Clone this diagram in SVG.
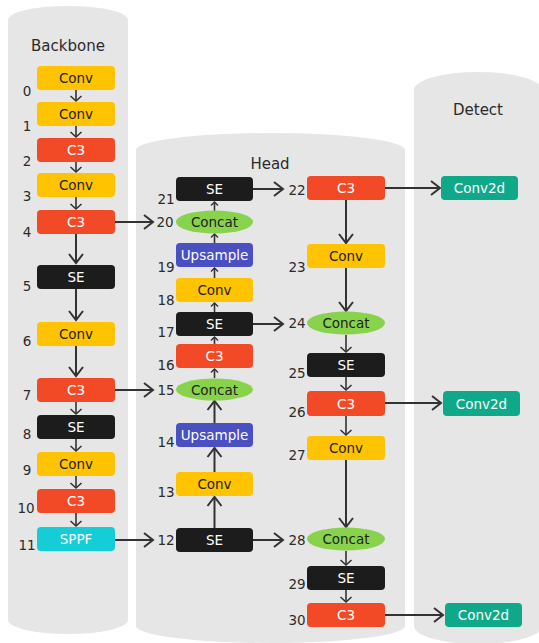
<svg xmlns="http://www.w3.org/2000/svg" width="539" height="643" viewBox="0 0 539 643">
  <defs>
    <style>
      .panel { fill: #e6e6e6; }
      .title { font-family: "DejaVu Sans", "Liberation Sans", sans-serif; font-size: 15px; fill: #2b2b2b; text-anchor: middle; }
      .num { font-family: "DejaVu Sans", "Liberation Sans", sans-serif; font-size: 13.5px; fill: #2b2b2b; text-anchor: middle; }
      .lbl { font-family: "DejaVu Sans", "Liberation Sans", sans-serif; font-size: 13.5px; text-anchor: middle; }
      .conv { fill: #ffc300; }
      .c3 { fill: #f24a26; }
      .se { fill: #1c1c1c; }
      .sppf { fill: #14cdd6; }
      .up { fill: #4a4fc2; }
      .cat { fill: #88d24c; }
      .c2d { fill: #0fa98a; }
      .dark { fill: #1e1e1e; }
      .light { fill: #fff; }
      .edge { fill: none; stroke: #333; stroke-width: 2; }
      .edge-s { fill: none; stroke: #333; stroke-width: 1.6; }
    </style>
    <marker id="big" markerUnits="userSpaceOnUse" markerWidth="20" markerHeight="20" refX="0" refY="0" orient="auto" overflow="visible">
      <path d="M-9,-7 L0,0 L-9,7" fill="none" stroke="#333" stroke-width="2"/>
    </marker>
    <marker id="small" markerUnits="userSpaceOnUse" markerWidth="14" markerHeight="14" refX="0" refY="0" orient="auto" overflow="visible">
      <path d="M-5,-5.5 L0,0 L-5,5.5" fill="none" stroke="#333" stroke-width="1.6"/>
    </marker>
    <marker id="tiny" markerUnits="userSpaceOnUse" markerWidth="10" markerHeight="10" refX="0" refY="0" orient="auto" overflow="visible">
      <path d="M-3.5,-3.5 L0,0 L-3.5,3.5" fill="none" stroke="#333" stroke-width="1.4"/>
    </marker>
  </defs>

  <rect width="539" height="643" fill="#ffffff"/>

  <!-- column panels -->
  <g id="panels">
    <path class="panel" d="M8,20 A60,14 0 0 1 128,20 V620 A60,14 0 0 1 8,620 Z"/>
    <path class="panel" d="M136,150 A134.5,17 0 0 1 405,150 V626 A134.5,17 0 0 1 136,626 Z"/>
    <path class="panel" d="M414,90 A64,18 0 0 1 542,90 V626 A64,18 0 0 1 414,626 Z"/>
    <text class="title" x="68" y="51">Backbone</text>
    <text class="title" x="270" y="169">Head</text>
    <text class="title" x="478" y="115">Detect</text>
  </g>

  <!-- connectors -->
  <g id="connectors">
    <!-- backbone chain -->
    <line class="edge-s" x1="76" y1="90" x2="76" y2="101" marker-end="url(#small)"/>
    <line class="edge-s" x1="76" y1="126" x2="76" y2="137" marker-end="url(#small)"/>
    <line class="edge-s" x1="76" y1="162" x2="76" y2="172" marker-end="url(#small)"/>
    <line class="edge-s" x1="76" y1="197" x2="76" y2="209" marker-end="url(#small)"/>
    <line class="edge" x1="76" y1="234" x2="76" y2="263" marker-end="url(#big)"/>
    <line class="edge" x1="76" y1="289" x2="76" y2="320" marker-end="url(#big)"/>
    <line class="edge" x1="76" y1="346" x2="76" y2="376" marker-end="url(#big)"/>
    <line class="edge-s" x1="76" y1="402" x2="76" y2="414" marker-end="url(#small)"/>
    <line class="edge-s" x1="76" y1="439" x2="76" y2="451" marker-end="url(#small)"/>
    <line class="edge-s" x1="76" y1="476" x2="76" y2="488" marker-end="url(#small)"/>
    <line class="edge-s" x1="76" y1="513" x2="76" y2="526" marker-end="url(#small)"/>
    <!-- backbone to head -->
    <line class="edge" x1="115" y1="222" x2="153" y2="222" marker-end="url(#big)"/>
    <line class="edge" x1="115" y1="390" x2="153" y2="390" marker-end="url(#big)"/>
    <line class="edge" x1="115" y1="540" x2="153" y2="540" marker-end="url(#big)"/>
    <!-- head upward chain -->
    <line class="edge-s" x1="214.5" y1="211" x2="214.5" y2="202" marker-end="url(#tiny)"/>
    <line class="edge-s" x1="214.5" y1="243" x2="214.5" y2="234" marker-end="url(#tiny)"/>
    <line class="edge-s" x1="214.5" y1="278" x2="214.5" y2="268" marker-end="url(#tiny)"/>
    <line class="edge-s" x1="214.5" y1="312" x2="214.5" y2="303" marker-end="url(#tiny)"/>
    <line class="edge-s" x1="214.5" y1="344" x2="214.5" y2="337" marker-end="url(#tiny)"/>
    <line class="edge-s" x1="214.5" y1="378" x2="214.5" y2="369" marker-end="url(#tiny)"/>
    <line class="edge" x1="214.5" y1="423" x2="214.5" y2="401" marker-end="url(#big)"/>
    <line class="edge" x1="214.5" y1="472" x2="214.5" y2="448" marker-end="url(#big)"/>
    <line class="edge" x1="214.5" y1="528" x2="214.5" y2="497" marker-end="url(#big)"/>
    <!-- head across -->
    <line class="edge" x1="253" y1="189" x2="283" y2="189" marker-end="url(#big)"/>
    <line class="edge" x1="253" y1="324" x2="283" y2="324" marker-end="url(#big)"/>
    <line class="edge" x1="253" y1="540" x2="283" y2="540" marker-end="url(#big)"/>
    <!-- head downward chain -->
    <line class="edge" x1="346" y1="200" x2="346" y2="243" marker-end="url(#big)"/>
    <line class="edge" x1="346" y1="268" x2="346" y2="311" marker-end="url(#big)"/>
    <line class="edge-s" x1="346" y1="335" x2="346" y2="352" marker-end="url(#small)"/>
    <line class="edge-s" x1="346" y1="377" x2="346" y2="390" marker-end="url(#small)"/>
    <line class="edge-s" x1="346" y1="416" x2="346" y2="435" marker-end="url(#small)"/>
    <line class="edge" x1="346" y1="460" x2="346" y2="527" marker-end="url(#big)"/>
    <line class="edge-s" x1="346" y1="551" x2="346" y2="565" marker-end="url(#small)"/>
    <line class="edge-s" x1="346" y1="590" x2="346" y2="602" marker-end="url(#small)"/>
    <!-- head to detect -->
    <line class="edge" x1="385" y1="188" x2="440" y2="188" marker-end="url(#big)"/>
    <line class="edge" x1="385" y1="403" x2="441" y2="403" marker-end="url(#big)"/>
    <line class="edge" x1="385" y1="615" x2="443" y2="615" marker-end="url(#big)"/>
  </g>

  <!-- backbone nodes -->
  <g id="n0"><rect class="conv" x="37" y="66" width="78" height="24" rx="4"/><text class="lbl dark" x="76" y="83">Conv</text><text class="num" x="27" y="96">0</text></g>
  <g id="n1"><rect class="conv" x="37" y="102" width="78" height="24" rx="4"/><text class="lbl dark" x="76" y="119">Conv</text><text class="num" x="27" y="131">1</text></g>
  <g id="n2"><rect class="c3" x="37" y="138" width="78" height="24" rx="4"/><text class="lbl light" x="76" y="155">C3</text><text class="num" x="27" y="166">2</text></g>
  <g id="n3"><rect class="conv" x="37" y="173" width="78" height="24" rx="4"/><text class="lbl dark" x="76" y="190">Conv</text><text class="num" x="27" y="201">3</text></g>
  <g id="n4"><rect class="c3" x="37" y="210" width="78" height="24" rx="4"/><text class="lbl light" x="76" y="227">C3</text><text class="num" x="27" y="237">4</text></g>
  <g id="n5"><rect class="se" x="37" y="265" width="78" height="24" rx="4"/><text class="lbl light" x="76" y="282">SE</text><text class="num" x="27" y="291">5</text></g>
  <g id="n6"><rect class="conv" x="37" y="322" width="78" height="24" rx="4"/><text class="lbl dark" x="76" y="339">Conv</text><text class="num" x="27" y="346">6</text></g>
  <g id="n7"><rect class="c3" x="37" y="378" width="78" height="24" rx="4"/><text class="lbl light" x="76" y="395">C3</text><text class="num" x="27" y="400">7</text></g>
  <g id="n8"><rect class="se" x="37" y="415" width="78" height="24" rx="4"/><text class="lbl light" x="76" y="432">SE</text><text class="num" x="27" y="439">8</text></g>
  <g id="n9"><rect class="conv" x="37" y="452" width="78" height="24" rx="4"/><text class="lbl dark" x="76" y="469">Conv</text><text class="num" x="27" y="475">9</text></g>
  <g id="n10"><rect class="c3" x="37" y="489" width="78" height="24" rx="4"/><text class="lbl light" x="76" y="506">C3</text><text class="num" x="26" y="513">10</text></g>
  <g id="n11"><rect class="sppf" x="37" y="527" width="78" height="24" rx="4"/><text class="lbl light" x="76" y="544">SPPF</text><text class="num" x="27" y="550">11</text></g>

  <!-- head, upward column -->
  <g id="n12"><rect class="se" x="176" y="528" width="77" height="24" rx="4"/><text class="lbl light" x="214.5" y="545">SE</text><text class="num" x="166" y="545">12</text></g>
  <g id="n13"><rect class="conv" x="176" y="472" width="77" height="24" rx="4"/><text class="lbl dark" x="214.5" y="489">Conv</text><text class="num" x="166" y="497">13</text></g>
  <g id="n14"><rect class="up" x="176" y="423" width="77" height="24" rx="4"/><text class="lbl light" x="214.5" y="440">Upsample</text><text class="num" x="166" y="447">14</text></g>
  <g id="n15"><ellipse class="cat" cx="214.5" cy="389.5" rx="38.5" ry="11"/><text class="lbl dark" x="214.5" y="394.5">Concat</text><text class="num" x="166" y="395">15</text></g>
  <g id="n16"><rect class="c3" x="176" y="344" width="77" height="24" rx="4"/><text class="lbl light" x="214.5" y="361">C3</text><text class="num" x="166" y="370">16</text></g>
  <g id="n17"><rect class="se" x="176" y="312" width="77" height="24" rx="4"/><text class="lbl light" x="214.5" y="329">SE</text><text class="num" x="166" y="337">17</text></g>
  <g id="n18"><rect class="conv" x="176" y="278" width="77" height="24" rx="4"/><text class="lbl dark" x="214.5" y="295">Conv</text><text class="num" x="166" y="305">18</text></g>
  <g id="n19"><rect class="up" x="176" y="243" width="77" height="24" rx="4"/><text class="lbl light" x="214.5" y="260">Upsample</text><text class="num" x="166" y="272">19</text></g>
  <g id="n20"><ellipse class="cat" cx="214.5" cy="222" rx="38.5" ry="11.5"/><text class="lbl dark" x="214.5" y="227">Concat</text><text class="num" x="165" y="227">20</text></g>
  <g id="n21"><rect class="se" x="176" y="177" width="77" height="24" rx="4"/><text class="lbl light" x="214.5" y="194">SE</text><text class="num" x="166" y="204">21</text></g>

  <!-- head, downward column -->
  <g id="n22"><rect class="c3" x="307" y="176" width="78" height="24" rx="4"/><text class="lbl light" x="346" y="193">C3</text><text class="num" x="297" y="195">22</text></g>
  <g id="n23"><rect class="conv" x="307" y="244" width="78" height="24" rx="4"/><text class="lbl dark" x="346" y="261">Conv</text><text class="num" x="297" y="272">23</text></g>
  <g id="n24"><ellipse class="cat" cx="346" cy="323" rx="39" ry="11.5"/><text class="lbl dark" x="346" y="328">Concat</text><text class="num" x="297" y="328">24</text></g>
  <g id="n25"><rect class="se" x="307" y="353" width="78" height="24" rx="4"/><text class="lbl light" x="346" y="370">SE</text><text class="num" x="297" y="378">25</text></g>
  <g id="n26"><rect class="c3" x="307" y="391" width="78" height="25" rx="4"/><text class="lbl light" x="346" y="408.5">C3</text><text class="num" x="297" y="417">26</text></g>
  <g id="n27"><rect class="conv" x="307" y="436" width="78" height="24" rx="4"/><text class="lbl dark" x="346" y="453">Conv</text><text class="num" x="297" y="460">27</text></g>
  <g id="n28"><ellipse class="cat" cx="346" cy="539" rx="39" ry="11.5"/><text class="lbl dark" x="346" y="544">Concat</text><text class="num" x="297" y="545">28</text></g>
  <g id="n29"><rect class="se" x="307" y="566" width="78" height="24" rx="4"/><text class="lbl light" x="346" y="583">SE</text><text class="num" x="297" y="589">29</text></g>
  <g id="n30"><rect class="c3" x="307" y="603" width="78" height="24" rx="4"/><text class="lbl light" x="346" y="620">C3</text><text class="num" x="297" y="625">30</text></g>

  <!-- detect heads -->
  <g id="d22"><rect class="c2d" x="441" y="176" width="77" height="24" rx="4"/><text class="lbl light" x="479.5" y="193">Conv2d</text></g>
  <g id="d26"><rect class="c2d" x="443" y="391" width="77" height="25" rx="4"/><text class="lbl light" x="481.5" y="408.5">Conv2d</text></g>
  <g id="d30"><rect class="c2d" x="445" y="603" width="77" height="24" rx="4"/><text class="lbl light" x="483.5" y="620">Conv2d</text></g>
</svg>
